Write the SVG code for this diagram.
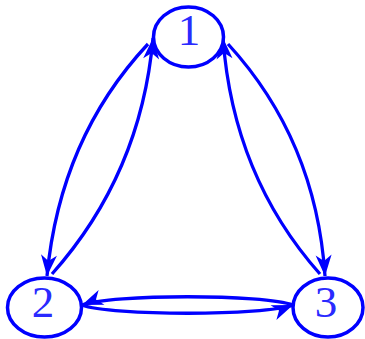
<svg xmlns="http://www.w3.org/2000/svg" width="365" height="339" viewBox="0 0 365 339">
<style>
.node{fill:#ffffff;stroke:#0000ff;stroke-width:3.5}
.lbl{font-family:"Liberation Serif","Times New Roman",serif;font-size:45px;fill:#2a2aff;text-anchor:middle}
.edge{fill:none;stroke:#0000ff;stroke-width:3.3}
</style>
<defs>
<marker id="arr" markerUnits="userSpaceOnUse" markerWidth="26" markerHeight="22" viewBox="-23 -11 26 22" refX="0" refY="0" orient="auto">
<path d="M0,0 L-21,-8 L-15,0 L-21,8 Z" fill="#0000ff"/>
</marker>
</defs>
<rect width="365" height="339" fill="#ffffff"/>
<g id="connectors">
<path class="edge" d="M148,44 Q60,138 47,276" marker-end="url(#arr)"/>
<path class="edge" d="M52,274 Q141,174 153,38" marker-end="url(#arr)"/>
<path class="edge" d="M228,44 Q316,140 325,276" marker-end="url(#arr)"/>
<path class="edge" d="M320,274 Q233,176 223,38" marker-end="url(#arr)"/>
<path class="edge" d="M293,305 C265,294 110,294 82,305" marker-end="url(#arr)"/>
<path class="edge" d="M82,305 C110,316 265,316 293,305" marker-end="url(#arr)"/>
</g>
<g id="node1">
<ellipse class="node" cx="188.5" cy="37" rx="35" ry="30"/>
<text class="lbl" x="189" y="45">1</text>
</g>
<g id="node2">
<ellipse class="node" cx="44.5" cy="307.5" rx="37" ry="29.5"/>
<text class="lbl" x="43" y="317">2</text>
</g>
<g id="node3">
<ellipse class="node" cx="328" cy="307.5" rx="35" ry="29.5"/>
<text class="lbl" x="326" y="317">3</text>
</g>
</svg>
